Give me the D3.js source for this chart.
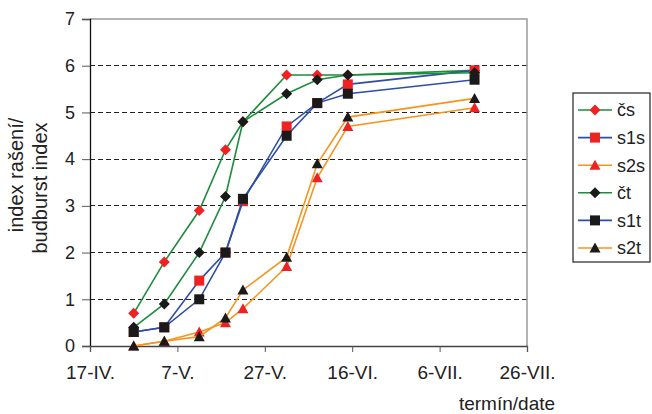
<!DOCTYPE html>
<html>
<head>
<meta charset="utf-8">
<script src="https://cdn.jsdelivr.net/npm/d3@7"></script>
<style>
  html, body { margin: 0; padding: 0; background: #fff; }
  svg { display: block; font-family: "Liberation Sans", Arial, sans-serif; }
</style>
</head>
<body>
<svg id="chart" width="652" height="414"></svg>
<script>
// Observation dates (year is arbitrary, only day/month matter)
const dates = ["2000-04-27", "2000-05-04", "2000-05-12", "2000-05-18", "2000-05-22",
               "2000-06-01", "2000-06-08", "2000-06-15", "2000-07-14"];

// Budburst index per series
const cs  = [0.7, 1.8, 2.9, 4.2, 4.8, 5.8, 5.8, 5.8, 5.9];
const s1s = [0.3, 0.4, 1.4, 2.0, 3.1, 4.7, 5.2, 5.6, 5.9];
const s2s = [0.0, 0.1, 0.3, 0.5, 0.8, 1.7, 3.6, 4.7, 5.1];
const ct  = [0.4, 0.9, 2.0, 3.2, 4.8, 5.4, 5.7, 5.8, 5.85];
const s1t = [0.3, 0.4, 1.0, 2.0, 3.15, 4.5, 5.2, 5.4, 5.7];
const s2t = [0.0, 0.1, 0.2, 0.6, 1.2, 1.9, 3.9, 4.9, 5.3];

const seriesNames = ["čs", "s1s", "s2s", "čt", "s1t", "s2t"];

// Axis ticks
const xTickDates  = ["2000-04-17", "2000-05-07", "2000-05-27", "2000-06-16", "2000-07-06", "2000-07-26"];
const xTickLabels = ["17-IV.", "7-V.", "27-V.", "16-VI.", "6-VII.", "26-VII."];
const yTicks = [0, 1, 2, 3, 4, 5, 6, 7];

const parse = d3.utcParse("%Y-%m-%d");

const GREEN = "#1f8b3d", BLUE = "#2f4ea6", ORANGE = "#f7941d";
const RED = "#ee2222", BLACK = "#1a1a1a";

const styles = {
  "čs":  { line: GREEN,  fill: RED,   shape: "diamond" },
  "s1s": { line: BLUE,   fill: RED,   shape: "square" },
  "s2s": { line: ORANGE, fill: RED,   shape: "triangle" },
  "čt":  { line: GREEN,  fill: BLACK, shape: "diamond" },
  "s1t": { line: BLUE,   fill: BLACK, shape: "square" },
  "s2t": { line: ORANGE, fill: BLACK, shape: "triangle" }
};

const valuesByName = { "čs": cs, "s1s": s1s, "s2s": s2s, "čt": ct, "s1t": s1t, "s2t": s2t };

const svg = d3.select("#chart");
const plot = { left: 90, right: 527, top: 19, bottom: 346 };

const x = d3.scaleUtc()
  .domain([parse(xTickDates[0]), parse(xTickDates[xTickDates.length - 1])])
  .range([plot.left, plot.right]);
const y = d3.scaleLinear().domain([0, 7]).range([plot.bottom, plot.top]);

// Marker shapes centred on (0,0)
function markerPath(shape) {
  if (shape === "diamond") return "M0,-5.5L5.5,0L0,5.5L-5.5,0Z";
  if (shape === "square") return "M-5,-5H5V5H-5Z";
  return "M0,-5.5L5.5,4.5H-5.5Z";
}

// Horizontal gridlines
svg.append("g")
  .selectAll("line")
  .data(yTicks.filter(v => v > 0 && v < 7))
  .join("line")
  .attr("x1", plot.left).attr("x2", plot.right)
  .attr("y1", d => y(d)).attr("y2", d => y(d))
  .attr("stroke", "#222").attr("stroke-width", 1)
  .attr("stroke-dasharray", "5,3")
  .attr("shape-rendering", "crispEdges");

// Plot area border (top and right)
svg.append("path")
  .attr("d", `M${plot.left},${y(7)}H${plot.right}V${plot.bottom}`)
  .attr("fill", "none").attr("stroke", "#9a9a9a").attr("stroke-width", 1.5);

// Y axis
const yAxis = svg.append("g")
  .attr("transform", `translate(${plot.left},0)`)
  .call(d3.axisLeft(y).tickValues(yTicks).tickSize(8).tickPadding(7).tickFormat(d3.format("d")));
yAxis.select(".domain").attr("stroke", "#111").attr("stroke-width", 1.3);
yAxis.selectAll(".tick line").attr("stroke", "#555");
yAxis.selectAll("text").attr("font-size", 18).attr("fill", "#222").attr("font-family", "Liberation Sans, Arial, sans-serif");

// X axis
const xAxis = svg.append("g")
  .attr("transform", `translate(0,${plot.bottom})`)
  .call(d3.axisBottom(x).tickValues(xTickDates.map(parse)).tickSize(6).tickPadding(14)
    .tickFormat((d, i) => xTickLabels[i]));
xAxis.select(".domain").attr("stroke", "#444").attr("stroke-width", 1.3);
xAxis.selectAll(".tick line").attr("stroke", "#555");
xAxis.selectAll("text").attr("font-size", 19).attr("fill", "#222").attr("font-family", "Liberation Sans, Arial, sans-serif");

// Axis titles
svg.append("text")
  .attr("transform", "translate(23,175) rotate(-90)")
  .attr("text-anchor", "middle")
  .attr("font-size", 20).attr("fill", "#222")
  .text("index rašení/");
svg.append("text")
  .attr("transform", "translate(46.5,188) rotate(-90)")
  .attr("text-anchor", "middle")
  .attr("font-size", 20).attr("fill", "#222")
  .text("budburst index");
svg.append("text")
  .attr("x", 507).attr("y", 410)
  .attr("text-anchor", "middle")
  .attr("font-size", 19).attr("fill", "#222")
  .text("termín/date");

// Series lines and markers
const line = d3.line()
  .x(d => x(d.date))
  .y(d => y(d.value));

seriesNames.forEach(name => {
  const st = styles[name];
  const pts = valuesByName[name].map((v, i) => ({ date: parse(dates[i]), value: v }));
  const g = svg.append("g");
  g.append("path")
    .datum(pts)
    .attr("d", line)
    .attr("fill", "none")
    .attr("stroke", st.line)
    .attr("stroke-width", 1.6);
  g.selectAll("path.m")
    .data(pts)
    .join("path")
    .attr("class", "m")
    .attr("transform", d => `translate(${x(d.date)},${y(d.value)})`)
    .attr("d", markerPath(st.shape))
    .attr("fill", st.fill);
});

// Legend
const legend = svg.append("g");
legend.append("rect")
  .attr("x", 573).attr("y", 93).attr("width", 77).attr("height", 169)
  .attr("fill", "#fff").attr("stroke", "#222").attr("stroke-width", 1.2);

const legendY = d3.scalePoint().domain(seriesNames).range([110, 248]);
seriesNames.forEach(name => {
  const st = styles[name];
  const cy = legendY(name);
  legend.append("line")
    .attr("x1", 578).attr("x2", 612).attr("y1", cy).attr("y2", cy)
    .attr("stroke", st.line).attr("stroke-width", 1.6);
  legend.append("path")
    .attr("transform", `translate(595,${cy})`)
    .attr("d", markerPath(st.shape))
    .attr("fill", st.fill);
  legend.append("text")
    .attr("x", 617).attr("y", cy).attr("dy", "0.36em")
    .attr("font-size", 18).attr("fill", "#222")
    .text(name);
});
</script>
</body>
</html>
